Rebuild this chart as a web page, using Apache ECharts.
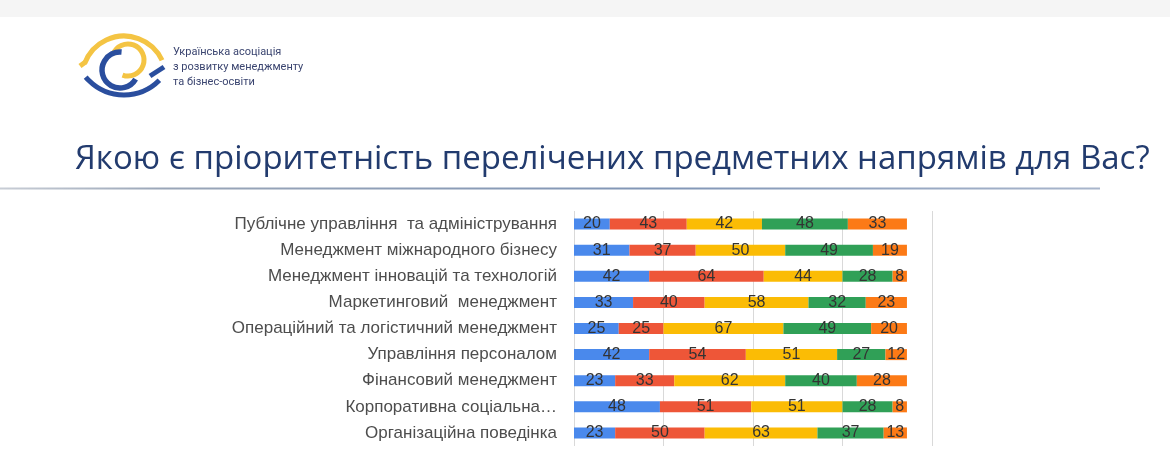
<!DOCTYPE html>
<html>
<head>
<meta charset="utf-8">
<script src="https://cdn.jsdelivr.net/npm/echarts@6/dist/echarts.min.js"></script>
<style>
html,body{margin:0;padding:0;background:#fff;}
#main{width:1170px;height:450px;}
</style>
</head>
<body>
<div id="main"></div>
<script>
var categories = [
  "Публічне управління  та адміністрування",
  "Менеджмент міжнародного бізнесу",
  "Менеджмент інновацій та технологій",
  "Маркетинговий  менеджмент",
  "Операційний та логістичний менеджмент",
  "Управління персоналом",
  "Фінансовий менеджмент",
  "Корпоративна соціальна…",
  "Організаційна поведінка"
];
var seriesNames = ["1", "2", "3", "4", "5"];
var values1 = [20, 31, 42, 33, 25, 42, 23, 48, 23];
var values2 = [43, 37, 64, 40, 25, 54, 33, 51, 50];
var values3 = [42, 50, 44, 58, 67, 51, 62, 51, 63];
var values4 = [48, 49, 28, 32, 49, 27, 40, 28, 37];
var values5 = [33, 19, 8, 23, 20, 12, 28, 8, 13];
var colors = ["#4A89EC", "#EE5638", "#FBBC05", "#30A057", "#FC7A16"];
var titleText = "Якою є пріоритетність перелічених предметних напрямів для Вас?";
var logoLines = ["Українська асоціація", "з розвитку менеджменту", "та бізнес-освіти"];

var allValues = [values1, values2, values3, values4, values5];
var chart = echarts.init(document.getElementById('main'));

var series = allValues.map(function (vals, i) {
  return {
    name: seriesNames[i],
    type: 'bar',
    stack: 'total',
    barWidth: 11,
    data: vals,
    itemStyle: { color: colors[i] },
    label: {
      show: true,
      position: 'inside',
      color: '#333',
      fontSize: 16,
      fontFamily: 'Liberation Sans, Arial, sans-serif'
    },
    emphasis: { disabled: true }
  };
});

function arc(cx, cy, r, a0, a1, color, w) {
  return {
    type: 'arc',
    shape: { cx: cx, cy: cy, r: r, startAngle: a0 * Math.PI / 180, endAngle: a1 * Math.PI / 180, clockwise: true },
    style: { stroke: color, lineWidth: w, fill: null, lineCap: 'butt' },
    silent: true
  };
}
function seg(x1, y1, x2, y2, color, w) {
  return { type: 'line', shape: { x1: x1, y1: y1, x2: x2, y2: y2 }, style: { stroke: color, lineWidth: w }, silent: true };
}
var Y = '#F4C443', B = '#2A4E9E';

var graphics = [
  { type: 'rect', shape: { x: 0, y: 0, width: 1170, height: 17 }, style: { fill: '#f5f5f5' }, silent: true },
  // logo
  arc(124, 78, 42, 200, 335, Y, 5),
  seg(85.5, 62, 80, 66, Y, 5),
  arc(128, 60, 16, 200, 110, Y, 5),
  arc(120, 70, 18, 30, 275, B, 5.5),
  seg(150, 76, 164, 67, B, 5),
  arc(124, 45, 50, 45, 140, B, 5),
  { type: 'text', left: 173, top: 45, style: { text: logoLines.join('\n'), fontSize: 11, lineHeight: 15, fill: '#3b4570', fontFamily: 'Roboto, sans-serif' }, silent: true },
  // title
  { type: 'text', left: 75, top: 143, style: { text: titleText, fontSize: 33, fill: '#223B6E', fontFamily: 'Open Sans, sans-serif' }, silent: true },
  { type: 'line', shape: { x1: 0, y1: 188.5, x2: 1100, y2: 188.5 },
    style: { lineWidth: 2, stroke: new echarts.graphic.LinearGradient(0, 0, 1, 0, [
      { offset: 0, color: '#c9ced6' }, { offset: 0.15, color: '#9aa6b8' }, { offset: 0.6, color: '#8196b6' }, { offset: 1, color: '#a9b6cc' }
    ]) }, silent: true }
];

chart.setOption({
  animation: false,
  grid: { left: 574, right: 238, top: 211, bottom: 4, containLabel: false },
  xAxis: {
    type: 'value', min: 0, max: 200, interval: 50,
    axisLabel: { show: false },
    axisLine: { show: false },
    axisTick: { show: false },
    splitLine: { show: true, lineStyle: { color: '#d9d9d9', width: 1 } }
  },
  yAxis: {
    type: 'category', data: categories, inverse: true,
    axisLine: { show: false },
    axisTick: { show: false },
    axisLabel: { color: '#4d4d4d', fontSize: 17, margin: 17, fontFamily: 'Liberation Sans, Arial, sans-serif' }
  },
  series: series,
  graphic: graphics
});
</script>
</body>
</html>
